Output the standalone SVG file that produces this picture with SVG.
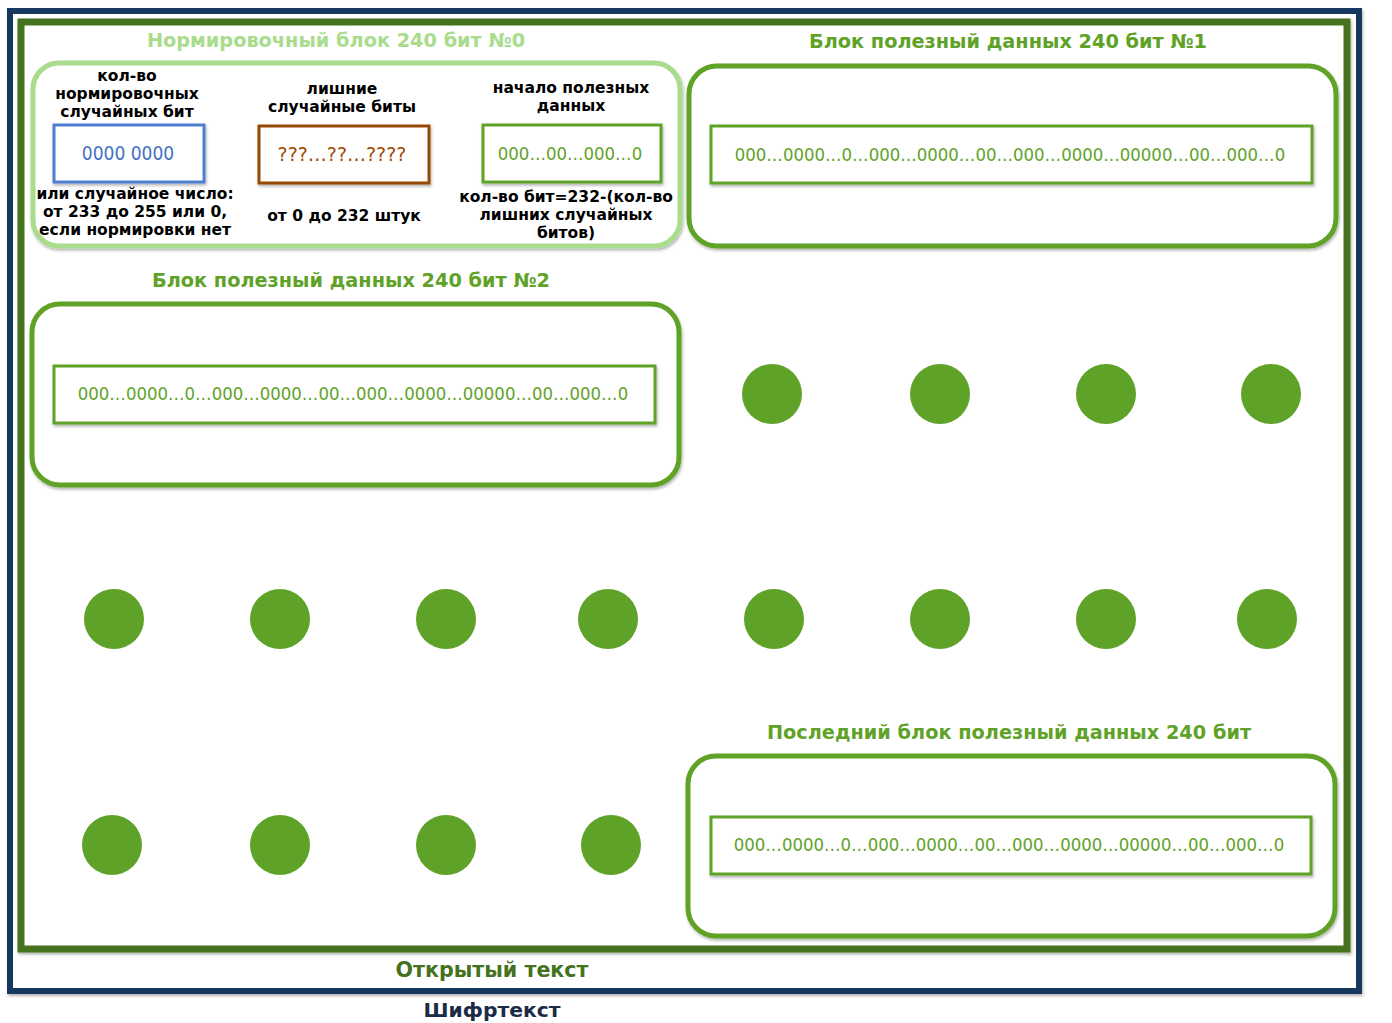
<svg xmlns="http://www.w3.org/2000/svg" width="1392" height="1023" viewBox="0 0 1392 1023">
<style>
text{font-family:"DejaVu Sans",sans-serif;text-anchor:middle}
.t{font-weight:bold;font-size:19.3px}
.lbl{font-weight:bold;font-size:15.5px;fill:#000}
.data{font-family:"DejaVu Sans Condensed","DejaVu Sans",sans-serif;font-size:18.4px;fill:#5fa228}
.rr{fill:#fff;stroke-width:5;filter:url(#sh)}
.in{fill:#fff;stroke-width:3;filter:url(#sh)}
.dot{fill:#5fa228}
</style>
<defs>
<filter id="sh" x="-5%" y="-5%" width="110%" height="115%">
<feDropShadow dx="1" dy="2" stdDeviation="1.5" flood-color="#000" flood-opacity="0.3"/>
</filter>
</defs>
<rect width="1392" height="1023" fill="#fff"/>
<g id="cipher">
<rect x="10" y="11" width="1349" height="980" fill="#fff" stroke="#17375e" stroke-width="6" filter="url(#sh)"/>
<text x="492" y="1017" style="font-weight:bold;font-size:20.3px;fill:#1c2b45">Шифртекст</text>
</g>
<g id="plain">
<rect x="21" y="22" width="1326" height="927" fill="#fff" stroke="#44721d" stroke-width="7" filter="url(#sh)"/>
<text x="492" y="977" style="font-weight:bold;font-size:20.6px;fill:#44721d">Открытый текст</text>
</g>
<g id="block0">
<text class="t" x="336" y="47" fill="#a9dc8c">Нормировочный блок 240 бит №0</text>
<rect class="rr" x="33" y="63" width="647" height="183" rx="26" stroke="#a9dc8c"/>
</g>
<g id="count">
<text class="lbl" x="127" y="81">кол-во</text>
<text class="lbl" x="127" y="99">нормировочных</text>
<text class="lbl" x="127" y="117">случайных бит</text>
<rect class="in" x="54" y="125" width="150" height="57" stroke="#4f7fd0"/>
<text x="128" y="160" style="font-family:'DejaVu Sans Condensed','DejaVu Sans',sans-serif;font-size:19px;fill:#4472c4">0000 0000</text>
<text class="lbl" x="135" y="199">или случайное число:</text>
<text class="lbl" x="135" y="217">от 233 до 255 или 0,</text>
<text class="lbl" x="135" y="235">если нормировки нет</text>
</g>
<g id="extra">
<text class="lbl" x="342" y="94">лишние</text>
<text class="lbl" x="342" y="112">случайные биты</text>
<rect class="in" x="259" y="126" width="170" height="57" stroke="#974806"/>
<text x="342" y="161" style="font-size:19px;fill:#a04a00">???…??…????</text>
<text class="lbl" x="344" y="221">от 0 до 232 штук</text>
</g>
<g id="start">
<text class="lbl" x="571" y="93">начало полезных</text>
<text class="lbl" x="571" y="111">данных</text>
<rect class="in" x="483" y="125" width="178" height="57" stroke="#5fa228"/>
<text class="data" x="570" y="160">000…00…000…0</text>
<text class="lbl" x="566" y="202">кол-во бит=232-(кол-во</text>
<text class="lbl" x="566" y="220">лишних случайных</text>
<text class="lbl" x="566" y="238">битов)</text>
</g>
<g id="block1">
<text class="t" x="1008" y="48" fill="#5fa228">Блок полезный данных 240 бит №1</text>
<rect class="rr" x="689" y="66" width="647" height="180" rx="28" stroke="#5fa228"/>
<rect class="in" x="711" y="126" width="601" height="57" stroke="#5fa228"/>
<text class="data" x="1010" y="161">000…0000…0…000…0000…00…000…0000…00000…00…000…0</text>
</g>
<g id="block2">
<text class="t" x="351" y="287" fill="#5fa228">Блок полезный данных 240 бит №2</text>
<rect class="rr" x="32" y="304" width="647" height="181" rx="28" stroke="#5fa228"/>
<rect class="in" x="54" y="366" width="601" height="57" stroke="#5fa228"/>
<text class="data" x="353" y="400">000…0000…0…000…0000…00…000…0000…00000…00…000…0</text>
</g>
<g id="blockLast">
<text class="t" x="1009" y="739" fill="#5fa228">Последний блок полезный данных 240 бит</text>
<rect class="rr" x="688" y="756" width="647" height="180" rx="28" stroke="#5fa228"/>
<rect class="in" x="711" y="817" width="600" height="57" stroke="#5fa228"/>
<text class="data" x="1009" y="851">000…0000…0…000…0000…00…000…0000…00000…00…000…0</text>
</g>
<g id="dots">
<circle class="dot" cx="772" cy="394" r="30"/>
<circle class="dot" cx="940" cy="394" r="30"/>
<circle class="dot" cx="1106" cy="394" r="30"/>
<circle class="dot" cx="1271" cy="394" r="30"/>
<circle class="dot" cx="114" cy="619" r="30"/>
<circle class="dot" cx="280" cy="619" r="30"/>
<circle class="dot" cx="446" cy="619" r="30"/>
<circle class="dot" cx="608" cy="619" r="30"/>
<circle class="dot" cx="774" cy="619" r="30"/>
<circle class="dot" cx="940" cy="619" r="30"/>
<circle class="dot" cx="1106" cy="619" r="30"/>
<circle class="dot" cx="1267" cy="619" r="30"/>
<circle class="dot" cx="112" cy="845" r="30"/>
<circle class="dot" cx="280" cy="845" r="30"/>
<circle class="dot" cx="446" cy="845" r="30"/>
<circle class="dot" cx="611" cy="845" r="30"/>
</g>
<g id="connectors"/>
</svg>
